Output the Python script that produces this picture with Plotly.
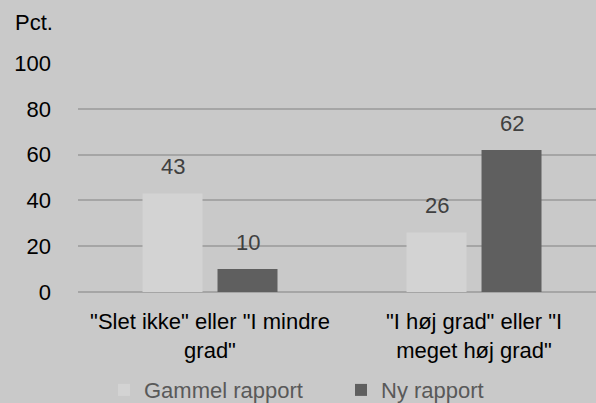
import plotly.graph_objects as go

categories = ['"Slet ikke" eller "I mindre<br>grad"', '"I høj grad" eller "I<br>meget høj grad"']
series_names = ["Gammel rapport", "Ny rapport"]
gammel = [43, 26]
ny = [10, 62]
y_ticks = [0, 20, 40, 60, 80, 100]

font_family = "Liberation Sans, Arial, sans-serif"
FS = 22

fig = go.Figure()
fig.add_trace(go.Bar(
    x=categories, y=gammel, name=series_names[0],
    marker=dict(color="#d3d3d3", line=dict(width=0)),
))
fig.add_trace(go.Bar(
    x=categories, y=ny, name=series_names[1],
    marker=dict(color="#5f5f5f", line=dict(width=0)),
))

# data labels above bars
annotations = []
for values, shift in ((gammel, -37.5), (ny, 37.5)):
    for cat, v in zip(categories, values):
        annotations.append(dict(
            x=cat, y=v, xref="x", yref="y", text=str(v), showarrow=False,
            xanchor="center", yanchor="middle", xshift=shift, yshift=27,
            font=dict(size=FS, color="#404040", family=font_family),
        ))
annotations.append(dict(
    text="Pct.", xref="paper", yref="paper", x=-0.125, y=1.1747,
    xanchor="left", yanchor="middle", showarrow=False,
    font=dict(size=FS, color="#000000", family=font_family),
))

fig.update_layout(
    width=596, height=403,
    margin=dict(l=78, r=0, t=63, b=111, autoexpand=False),
    paper_bgcolor="#c9c9c9",
    plot_bgcolor="rgba(0,0,0,0)",
    barmode="group",
    bargap=0.432,
    bargroupgap=0.2,
    font=dict(family=font_family, size=FS, color="#000000"),
    showlegend=True,
    legend=dict(
        orientation="h", xref="container", x=0.1745, xanchor="left",
        yref="container", y=0.032, yanchor="middle",
        font=dict(size=FS, color="#595959", family=font_family),
        bgcolor="rgba(0,0,0,0)", tracegroupgap=0,
        entrywidth=192, entrywidthmode="pixels",
    ),
    xaxis=dict(
        range=[-0.5, 1.462], automargin=False,
        showgrid=False, showline=False, zeroline=False,
        ticks="", ticklabelstandoff=14,
        tickfont=dict(size=FS, color="#000000"),
    ),
    yaxis=dict(
        range=[0, 100], tickvals=y_ticks, ticktext=[str(v) for v in y_ticks],
        automargin=False,
        showgrid=True, gridcolor="#a5a5a5", gridwidth=1.5,
        zeroline=True, zerolinecolor="#a5a5a5", zerolinewidth=1.5,
        showline=False, ticks="", ticklabelstandoff=26,
        tickfont=dict(size=FS, color="#000000"),
    ),
    annotations=annotations,
)

fig.write_html("out.html")
